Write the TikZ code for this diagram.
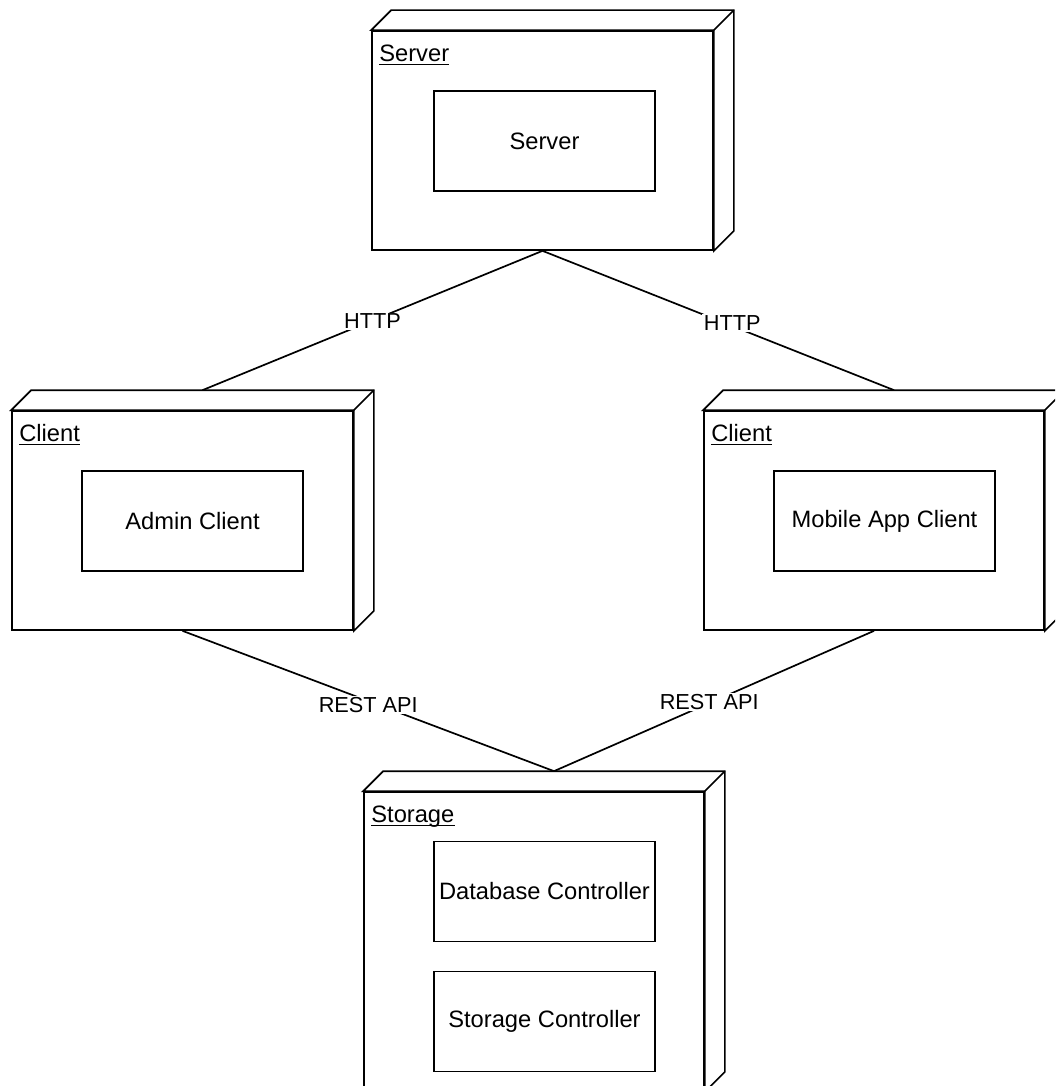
\documentclass[tikz,border=0pt]{standalone}
\usepackage{fontspec}
\setmainfont{Liberation Sans}
\usetikzlibrary{calc}
\tikzset{
  nodeface/.style={draw, line width=1.7pt, fill=white, inner sep=0pt,
    minimum width=341pt, minimum height=219pt},
  inner/.style={draw, line width=1.7pt, fill=white, inner sep=0pt,
    minimum width=221pt, minimum height=100pt, align=center,
    font=\fontsize{23.7}{28}\selectfont},
  boxline/.style={draw, line width=1.7pt, fill=white, line join=miter},
  nodetitle/.style={anchor=base west, inner sep=0pt, font=\fontsize{23.7}{28}\selectfont},
  conn/.style={line width=1.7pt},
  elabel/.style={fill=white, inner sep=1.5pt, font=\fontsize{21.7}{26}\selectfont}
}
\begin{document}
\begin{tikzpicture}[x=1pt,y=-1pt]
\clip (0,0) rectangle (1055,1086);
\fill[white] (0,0) rectangle (1055,1086);

% front faces
\node[nodeface] (S) at (542.5,140.5) {};
\node[nodeface] (CL) at (182.5,520.5) {};
\node[nodeface, minimum width=340pt] (CR) at (874,520.5) {};
\node[nodeface, minimum width=340pt, minimum height=299pt] (ST) at (534,941.5) {};

% 3D depth parts
\foreach \n in {S,CL,CR,ST}{
  \draw[boxline] (\n.north west) -- ($(\n.north west)+(20,-20)$) -- ($(\n.north east)+(20,-20)$)
    -- ($(\n.south east)+(20,-20)$) -- (\n.south east) -- (\n.north east) -- cycle;
  \draw[boxline] (\n.north east) -- ($(\n.north east)+(20,-20)$);
}

% titles
\node[nodetitle] (tS) at ($(S.north west)+(8,31)$) {Server};
\node[nodetitle] (tCL) at ($(CL.north west)+(8,31)$) {Client};
\node[nodetitle] (tCR) at ($(CR.north west)+(8,31)$) {Client};
\node[nodetitle] (tST) at ($(ST.north west)+(8,31)$) {Storage};
\foreach \t in {tS,tCL,tCR,tST}{
  \draw[line width=1.3pt] ($(\t.base west)+(0,3.5)$) -- ($(\t.base east)+(0,3.5)$);
}

% inner components
\node[inner] (srv) at (544.5,141) {Server};
\node[inner] (adm) at (192.5,521) {Admin Client};
\node[inner] (mob) at (884.5,521) {Mobile App Client};
\node[inner] (db) at (544.5,891.5) {Database Controller};
\node[inner] (sc) at (544.5,1021.5) {Storage Controller};

% connection points
\coordinate (CLtop) at ($(CL.north)+(20,-20)$);
\coordinate (CRtop) at ($(CR.north)+(20,-20)$);
\coordinate (STtop) at ($(ST.north)+(20,-20)$);

% connectors
\draw[conn] (S.south) -- node[elabel, pos=0.5, yshift=-1pt] {HTTP} (CLtop);
\draw[conn] (S.south) -- node[elabel, pos=0.54, yshift=3pt] {HTTP} (CRtop);
\draw[conn] (CL.south) -- node[elabel, pos=0.5, yshift=-4pt] {REST API} (STtop);
\draw[conn] (CR.south) -- node[elabel, pos=0.515, yshift=1pt] {REST API} (STtop);
\end{tikzpicture}
\end{document}
